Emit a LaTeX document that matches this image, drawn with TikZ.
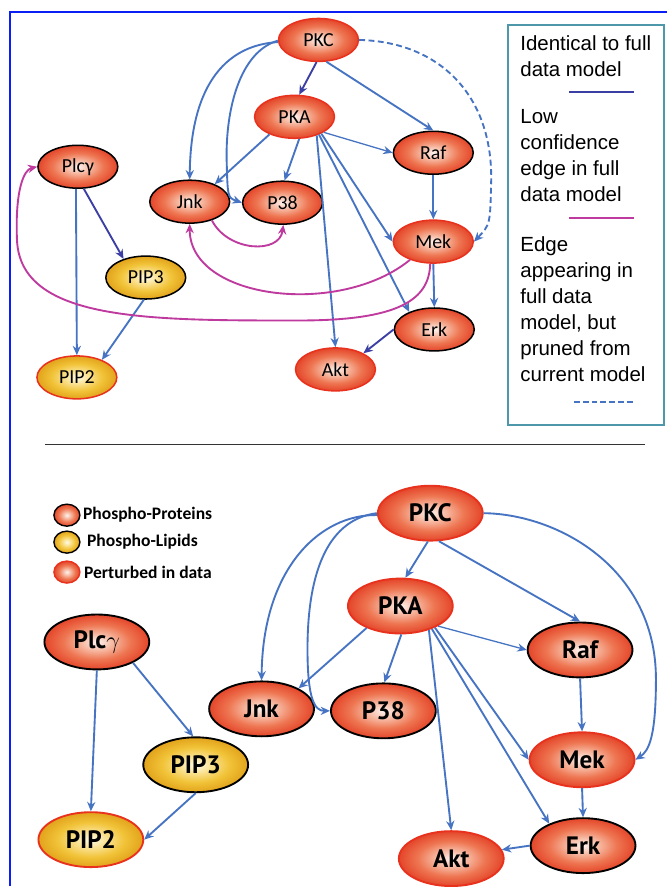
\documentclass[tikz,border=0pt]{standalone}
\usepackage{fontspec}
\usetikzlibrary{shapes.geometric,arrows.meta}
\newfontfamily\topfont{Carlito}
\newfontfamily\botfont{PT Sans}
\newfontfamily\keyfont{Liberation Sans}
\definecolor{edgeblue}{HTML}{4674C2}
\definecolor{edgedark}{HTML}{3B3FA3}
\definecolor{edgepink}{HTML}{BE3A9E}
\definecolor{rimred}{HTML}{E8321E}
\definecolor{boxteal}{HTML}{4E98AC}
\definecolor{frameblue}{HTML}{0A1EF5}
\definecolor{protA}{HTML}{FEF3EF}
\definecolor{protB}{HTML}{F7BCA6}
\definecolor{protC}{HTML}{EE7652}
\definecolor{protD}{HTML}{E4462A}
\definecolor{lipA}{HTML}{FFFBE6}
\definecolor{lipB}{HTML}{FBE396}
\definecolor{lipC}{HTML}{F1C338}
\definecolor{lipD}{HTML}{E2A31B}
\pgfdeclareradialshading{protshade}{\pgfpoint{0bp}{0bp}}{color(0bp)=(protA); color(7bp)=(protB); color(16bp)=(protC); color(25bp)=(protD); color(50bp)=(protD)}
\pgfdeclareradialshading{lipshade}{\pgfpoint{0bp}{0bp}}{color(0bp)=(lipA); color(7bp)=(lipB); color(16bp)=(lipC); color(25bp)=(lipD); color(50bp)=(lipD)}

\begin{document}
\begin{tikzpicture}[x=0.03cm, y=-0.03cm,
  prot/.style={ellipse, shade, shading=protshade, draw=black, inner sep=0pt},
  lip/.style={ellipse, shade, shading=lipshade, draw=black, inner sep=0pt},
  perturbed/.style={draw=rimred},
  small/.style={line width=1.3pt, minimum width=2.4cm, minimum height=1.29cm, font=\topfont\fontsize{17}{18}\selectfont},
  big/.style={line width=1.6pt, minimum width=3.15cm, minimum height=1.65cm, font=\botfont\bfseries\fontsize{21.5}{24}\selectfont},
  dot/.style={line width=1.2pt, minimum width=0.78cm, minimum height=0.66cm},
  link/.style={draw=edgeblue, line width=1.6pt, -{Stealth[length=8pt,width=7pt]}},
  thinlink/.style={link, line width=1.1pt},
  darklink/.style={link, draw=edgedark},
  lowlink/.style={link, draw=edgepink},
  prunedlink/.style={link, dashed, dash pattern=on 5pt off 3pt},
  keytext/.style={anchor=base west, inner sep=0pt, font=\keyfont\fontsize{17.5}{22}\selectfont},
  dottext/.style={anchor=west, inner sep=0pt, font=\topfont\bfseries\fontsize{15}{17}\selectfont}]

\fill[white] (0,0) rectangle (668,887);
\draw[frameblue, line width=2.4pt] (10,887) -- (10,12) -- (668,12);

% upper model
\node[prot,perturbed,small] (tPKC) at (319,40) {PKC};
\node[prot,perturbed,small] (tPKA) at (295,117) {PKA};
\node[prot,small] (tRaf) at (434,153) {Raf};
\node[prot,small] (tPlc) at (78,167) {Plcγ};
\node[prot,small] (tJnk) at (190,202) {Jnk};
\node[prot,small] (tP38) at (283,203) {P38};
\node[prot,perturbed,small] (tMek) at (434,242) {Mek};
\node[lip,small] (tPIP3) at (146,278) {PIP3};
\node[prot,small] (tErk) at (435,330) {Erk};
\node[prot,perturbed,small] (tAkt) at (336,370) {Akt};
\node[lip,perturbed,small] (tPIP2) at (77,378) {PIP2};

\draw[link] (tPKC.183) .. controls (230,45) and (191,80) .. (tJnk.north);
\draw[link] (tPKC.181) .. controls (240,52) and (226,110) .. (227,160) .. controls (228,198) .. (tP38.west);
\draw[darklink] (tPKC.265) -- (tPKA.78);
\draw[link] (tPKC.290) -- (tRaf.north);
\draw[prunedlink] (tPKC.east) .. controls (440,42) and (493,95) .. (492,180) .. controls (491,225) .. (tMek.east);
\draw[link] (tPKA.215) -- (tJnk.35);
\draw[link] (tPKA.282) -- (tP38.85);
\draw[thinlink] (tPKA.-28) -- (tRaf.west);
\draw[link] (tPKA.-32) -- (tMek.west);
\draw[link] (tPKA.-36) -- (tErk.145);
\draw[link] (tPKA.-40) -- (tAkt.north);
\draw[link] (tRaf.south) -- (tMek.north);
\draw[link] (tMek.south) -- (tErk.north);
\draw[darklink] (tErk.west) -- (tAkt.30);
\draw[darklink] (tPlc.-75) -- (tPIP3.140);
\draw[link] (tPlc.265) -- (tPIP2.north);
\draw[link] (tPIP3.265) -- (tPIP2.35);
\draw[lowlink] (tJnk.-40) .. controls (228,252) and (280,255) .. (tP38.-88);
\draw[lowlink] (tMek.218) .. controls (340,318) and (190,300) .. (tJnk.south);
\draw[lowlink] (tMek.262) .. controls (430,300) and (400,321) .. (300,321) .. controls (150,321) and (20,322) .. (17,240) .. controls (15,190) and (24,170) .. (tPlc.west);

% key
\draw[boxteal, line width=1.4pt] (509,25) rectangle (665,426);
\node[keytext] (k1) at (521,51) {Identical to full};
\node[keytext] (k2) at (521,77) {data model};
\draw[edgedark, line width=1.8pt] (570,92) -- (635,92);
\node[keytext] (k3) at (521,124) {Low};
\node[keytext] (k4) at (521,150) {confidence};
\node[keytext] (k5) at (521,176) {edge in full};
\node[keytext] (k6) at (521,202) {data model};
\draw[edgepink, line width=1.8pt] (570,218) -- (635,218);
\node[keytext] (k7) at (521,252) {Edge};
\node[keytext] (k8) at (521,278) {appearing in};
\node[keytext] (k9) at (521,304) {full data};
\node[keytext] (k10) at (521,330) {model, but};
\node[keytext] (k11) at (521,356) {pruned from};
\node[keytext] (k12) at (521,382) {current model};
\draw[edgeblue, line width=1.8pt, dash pattern=on 5pt off 2.5pt] (575,403) -- (635,403);

\draw[black!80, line width=1.2pt] (45,445) -- (646,445);

% node key
\node[prot,dot] (dProt) at (67,516) {};
\node[dottext] (tProt) at (83,516) {Phospho-Proteins};
\node[lip,dot] (dLip) at (67,543) {};
\node[dottext] (tLip) at (87,543) {Phospho-Lipids};
\node[prot,perturbed,dot] (dPert) at (67,573) {};
\node[dottext] (tPert) at (84,573) {Perturbed in data};

% current model
\node[prot,perturbed,big] (bPKC) at (431,514) {PKC};
\node[prot,perturbed,big] (bPKA) at (401,607) {PKA};
\node[prot,big] (bRaf) at (581,651) {Raf};
\node[prot,big] (bPlc) at (97,643) {Plc$\gamma$};
\node[prot,big] (bJnk) at (262,710) {Jnk};
\node[prot,big] (bP38) at (384,712) {P38};
\node[lip,big] (bPIP3) at (196,766) {PIP3};
\node[prot,perturbed,big] (bMek) at (583,761) {Mek};
\node[lip,perturbed,big] (bPIP2) at (91,841) {PIP2};
\node[prot,big] (bErk) at (584,847) {Erk};
\node[prot,perturbed,big] (bAkt) at (452,860) {Akt};

\draw[link] (bPKC.182) .. controls (320,515) and (263,570) .. (bJnk.north);
\draw[link] (bPKC.180) .. controls (330,520) and (308,570) .. (308,650) .. controls (308,700) and (315,712) .. (bP38.west);
\draw[link] (bPKC.265) -- (bPKA.80);
\draw[link] (bPKC.287) -- (bRaf.north);
\draw[link] (bPKC.east) .. controls (560,515) and (657,570) .. (657,680) .. controls (657,738) and (650,752) .. (bMek.east);
\draw[link] (bPKA.213) -- (bJnk.29);
\draw[link] (bPKA.272) -- (bP38.88);
\draw[thinlink] (bPKA.-28) -- (bRaf.west);
\draw[link] (bPKA.-32) -- (bMek.west);
\draw[link] (bPKA.-36) -- (bErk.147);
\draw[link] (bPKA.-40) -- (bAkt.north);
\draw[link] (bRaf.south) -- (bMek.north);
\draw[link] (bMek.south) -- (bErk.north);
\draw[link] (bErk.west) -- (bAkt.10);
\draw[link] (bPlc.-30) -- (bPIP3.95);
\draw[link] (bPlc.south) -- (bPIP2.north);
\draw[link] (bPIP3.south) -- (bPIP2.east);
\end{tikzpicture}
\end{document}
